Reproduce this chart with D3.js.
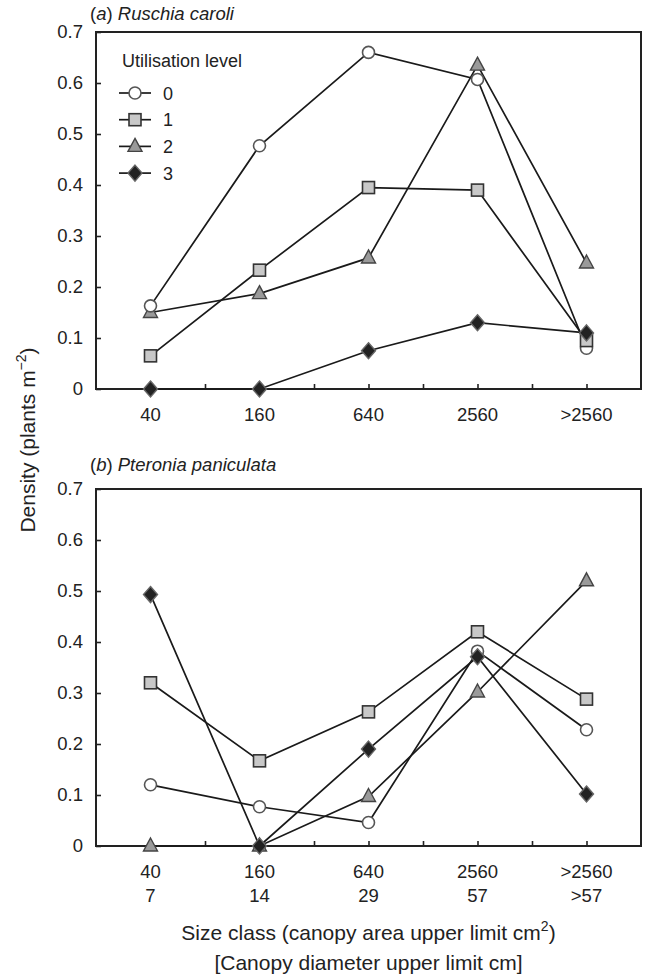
<!DOCTYPE html>
<html>
<head>
<meta charset="utf-8">
<style>
  body { margin: 0; background: #fff; }
  svg text { font-family: "Liberation Sans", Arial, sans-serif; fill: #222; }
  .axis path, .axis line { stroke: #222; }
</style>
<script src="https://d3js.org/d3.v7.min.js"></script>
</head>
<body>
<svg width="646" height="976"></svg>
<script>
// size classes
var sizeClasses = ["40", "160", "640", "2560", ">2560"];
var diameters = ["7", "14", "29", "57", ">57"];
var levels = ["0", "1", "2", "3"];

// (a) Ruschia caroli, density per utilisation level
var rcLevel0 = [0.163, 0.477, 0.66, 0.607, 0.08];
var rcLevel1 = [0.065, 0.233, 0.395, 0.39, 0.095];
var rcLevel2 = [0.15, 0.187, 0.257, 0.635, 0.247];
var rcLevel3 = [0, 0, 0.075, 0.13, 0.11];

// (b) Pteronia paniculata
var ppLevel0 = [0.12, 0.077, 0.046, 0.382, 0.228];
var ppLevel1 = [0.32, 0.167, 0.263, 0.42, 0.288];
var ppLevel2 = [0, 0, 0.097, 0.302, 0.52];
var ppLevel3 = [0.493, 0, 0.19, 0.371, 0.102];

var yTicks = [0, 0.1, 0.2, 0.3, 0.4, 0.5, 0.6, 0.7];

var svg = d3.select("svg");
var left = 96, right = 641, plotH = 357;
var fs = 18.5;

var x = d3.scaleBand().domain(sizeClasses).range([left, right]);
var xHalf = d3.scaleLinear().domain([0, 10]).range([left, right]);

// marker shapes, by level
var markers = [
  function(g) { g.append("circle").attr("r", 6).attr("fill", "#fff").attr("stroke", "#555").attr("stroke-width", 1.6); },
  function(g) { g.append("rect").attr("x", -6).attr("y", -6).attr("width", 12).attr("height", 12)
                  .attr("fill", "#c8c8c8").attr("stroke", "#333").attr("stroke-width", 1.6); },
  function(g) { g.append("path").attr("d", "M0,-8L7,5L-7,5Z").attr("fill", "#9a9a9a").attr("stroke", "#444").attr("stroke-width", 1.4); },
  function(g) { g.append("path").attr("d", "M0,-8L7,0L0,8L-7,0Z").attr("fill", "#222").attr("stroke", "#666").attr("stroke-width", 1.4); }
];
var drawOrder = [2, 0, 1, 3];

function panel(top, titleY, letter, species, series, twoLines) {
  var y = d3.scaleLinear().domain([0, 0.7]).range([top + plotH, top]);

  // title
  var t = svg.append("text").attr("x", 90).attr("y", titleY).attr("font-size", fs);
  t.append("tspan").text("(");
  t.append("tspan").attr("font-style", "italic").text(letter);
  t.append("tspan").text(") ");
  t.append("tspan").attr("font-style", "italic").text(species);

  // box
  svg.append("rect").attr("x", left).attr("y", top).attr("width", right - left).attr("height", plotH)
    .attr("fill", "none").attr("stroke", "#222").attr("stroke-width", 2);

  // y axis
  var ya = svg.append("g").attr("class", "axis").attr("transform", "translate(" + left + ",0)")
    .call(d3.axisLeft(y).tickValues(yTicks).tickSize(-5).tickPadding(13)
      .tickFormat(function(d) { return d === 0 ? "0" : d.toFixed(1); }));
  ya.select(".domain").remove();
  ya.selectAll("line").attr("stroke-width", 1.6);
  ya.selectAll("text").attr("font-size", fs).attr("fill", "#222").attr("font-family", "Liberation Sans, Arial, sans-serif");

  // x axis: ticks at every half band
  var xa = svg.append("g").attr("class", "axis").attr("transform", "translate(0," + (top + plotH) + ")")
    .call(d3.axisBottom(xHalf).tickValues(d3.range(1, 10)).tickSize(-5).tickFormat(""));
  xa.select(".domain").remove();
  xa.selectAll("line").attr("stroke-width", 1.6);

  // x labels
  svg.append("g").selectAll("text").data(sizeClasses).join("text")
    .attr("x", function(d) { return x(d) + x.bandwidth() / 2; })
    .attr("y", top + plotH + 32)
    .attr("text-anchor", "middle").attr("font-size", fs)
    .text(function(d) { return d; });
  if (twoLines) {
    svg.append("g").selectAll("text").data(diameters).join("text")
      .attr("x", function(d, i) { return x(sizeClasses[i]) + x.bandwidth() / 2; })
      .attr("y", top + plotH + 56)
      .attr("text-anchor", "middle").attr("font-size", fs)
      .text(function(d) { return d; });
  }

  var line = d3.line()
    .x(function(d, i) { return x(sizeClasses[i]) + x.bandwidth() / 2; })
    .y(function(d) { return y(d); });

  svg.append("g").selectAll("path").data(series).join("path")
    .attr("d", line).attr("fill", "none").attr("stroke", "#1a1a1a").attr("stroke-width", 1.7);

  drawOrder.forEach(function(s) {
    series[s].forEach(function(v, i) {
      var g = svg.append("g").attr("transform", "translate(" + (x(sizeClasses[i]) + x.bandwidth() / 2) + "," + y(v) + ")");
      markers[s](g);
    });
  });
}

panel(32, 20, "a", "Ruschia caroli", [rcLevel0, rcLevel1, rcLevel2, rcLevel3], false);
panel(489, 471, "b", "Pteronia paniculata", [ppLevel0, ppLevel1, ppLevel2, ppLevel3], true);

// legend
svg.append("text").attr("x", 122).attr("y", 67).attr("font-size", 18).text("Utilisation level");
levels.forEach(function(l, i) {
  var cy = 93 + i * 26.7;
  svg.append("line").attr("x1", 119).attr("x2", 151).attr("y1", cy).attr("y2", cy)
    .attr("stroke", "#1a1a1a").attr("stroke-width", 1.7);
  var g = svg.append("g").attr("transform", "translate(135," + cy + ")");
  markers[i](g);
  svg.append("text").attr("x", 163).attr("y", cy + 6.5).attr("font-size", 18).text(l);
});

// y title
var yt = svg.append("text").attr("transform", "translate(35,440) rotate(-90)")
  .attr("text-anchor", "middle").attr("font-size", 21);
yt.append("tspan").text("Density (plants m");
yt.append("tspan").attr("dy", -9).attr("font-size", 14).text("\u22122");
yt.append("tspan").attr("dy", 9).text(")");

// x titles
var xt = svg.append("text").attr("x", (left + right) / 2).attr("y", 940)
  .attr("text-anchor", "middle").attr("font-size", 21);
xt.append("tspan").text("Size class (canopy area upper limit cm");
xt.append("tspan").attr("dy", -9).attr("font-size", 14).text("2");
xt.append("tspan").attr("dy", 9).text(")");
svg.append("text").attr("x", (left + right) / 2).attr("y", 970)
  .attr("text-anchor", "middle").attr("font-size", 21).text("[Canopy diameter upper limit cm]");
</script>
</body>
</html>
